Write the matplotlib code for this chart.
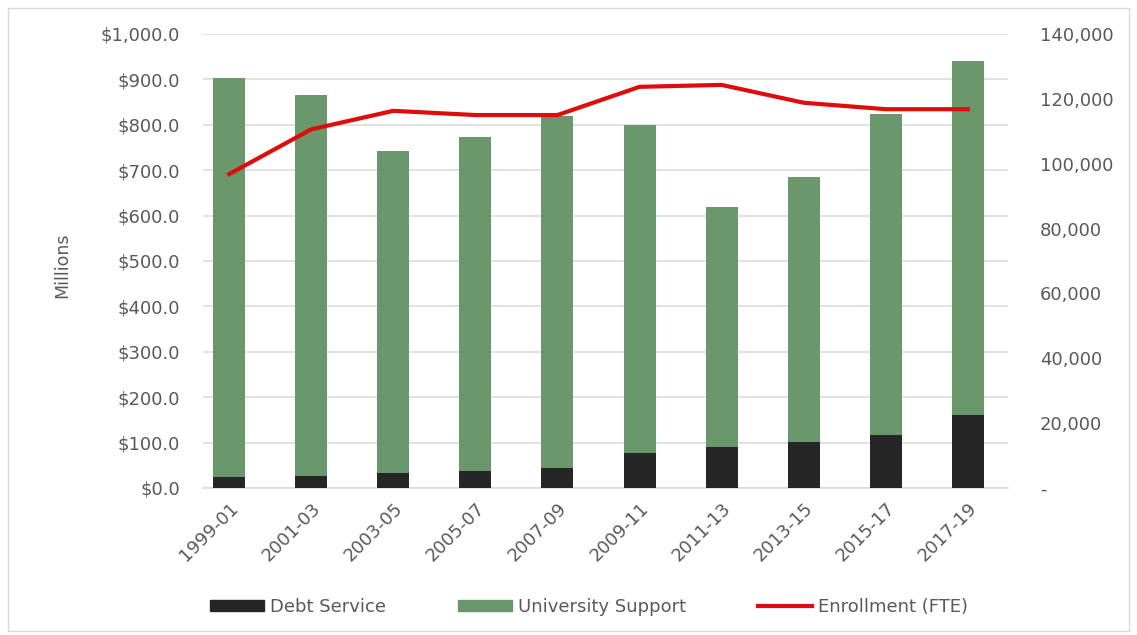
import matplotlib
matplotlib.use("Agg")
import matplotlib.pyplot as plt
from matplotlib.patches import Rectangle, Patch
from matplotlib.lines import Line2D
from matplotlib.ticker import FuncFormatter

#-----------------------------------------------------------------------
# Chart data
#-----------------------------------------------------------------------
biennium = ["1999-01", "2001-03", "2003-05", "2005-07", "2007-09",
            "2009-11", "2011-13", "2013-15", "2015-17", "2017-19"]

# stacked totals in $ millions
debt_service = [24, 27, 34, 38, 45, 77, 91, 102, 117, 161]
total_support = [902, 866, 742, 772, 820, 800, 620, 686, 824, 940]
university_support = [t - d for t, d in zip(total_support, debt_service)]

enrollment_fte = [96800, 110600, 116300, 115000, 115000,
                  123700, 124300, 118800, 116800, 116800]

#-----------------------------------------------------------------------
# Function Name : main
# Description   : Draw the combo chart and save out.png
#-----------------------------------------------------------------------

def main():
    text_col = "#595959"
    grid_col = "#d9d9d9"
    green = "#6a976b"
    dark = "#262626"
    red = "#e00b0b"
    fs = 13

    fig = plt.figure(figsize=(11.37, 6.35), dpi=100)
    ax = fig.add_axes([0.1785, 0.2315, 0.708, 0.715])
    ax2 = ax.twinx()

    x = range(len(biennium))
    ax.bar(x, debt_service, width=0.39, color=dark, zorder=3)
    ax.bar(x, university_support, width=0.39, bottom=debt_service,
           color=green, zorder=3)
    ax2.plot(x, enrollment_fte, color=red, linewidth=3, zorder=4)

    # left axis
    ax.set_ylim(0, 1000)
    ax.set_yticks(range(0, 1001, 100))
    ax.yaxis.set_major_formatter(FuncFormatter(lambda v, p: f"${v:,.1f}"))
    ax.set_xlim(-0.32, len(biennium) - 0.51)
    ax.set_xticks(list(x))
    ax.set_xticklabels(biennium, rotation=45, ha="right",
                       rotation_mode="anchor")
    ax.grid(axis="y", color=grid_col, linewidth=1.1, zorder=0)
    ax.set_ylabel("Millions", color=text_col, fontsize=12.5)
    ax.yaxis.set_label_coords(-0.163, 0.49)

    # right axis
    ax2.set_ylim(0, 140000)
    ax2.set_yticks(range(0, 140001, 20000))
    ax2.yaxis.set_major_formatter(
        FuncFormatter(lambda v, p: "-" if v == 0 else f"{v:,.0f}"))

    for a in (ax, ax2):
        for side in ("top", "left", "right", "bottom"):
            a.spines[side].set_visible(False)
        a.tick_params(length=0, labelsize=fs, labelcolor=text_col)
    ax.tick_params(axis="y", pad=16.5)
    ax.tick_params(axis="x", pad=8)
    ax2.tick_params(axis="y", pad=23)
    ax.spines["bottom"].set_visible(True)
    ax.spines["bottom"].set_color(grid_col)
    ax.spines["bottom"].set_linewidth(1.1)

    # legend
    handles = [Patch(color=dark, label="Debt Service"),
               Patch(color=green, label="University Support"),
               Line2D([0], [0], color=red, linewidth=3,
                      label="Enrollment (FTE)")]
    fig.legend(handles=handles, loc="center", ncol=3,
               bbox_to_anchor=(0.518, 0.044), frameon=False,
               fontsize=fs, labelcolor=text_col, handlelength=3.0,
               handleheight=0.55, handletextpad=0.3, columnspacing=4.0)

    # chart border
    fig.patches.append(Rectangle((0.007, 0.007), 0.986, 0.981,
                                 transform=fig.transFigure, fill=False,
                                 edgecolor="#d9d9d9", linewidth=1))

    fig.savefig("out.png", dpi=100)

if __name__ == "__main__":
    main()
